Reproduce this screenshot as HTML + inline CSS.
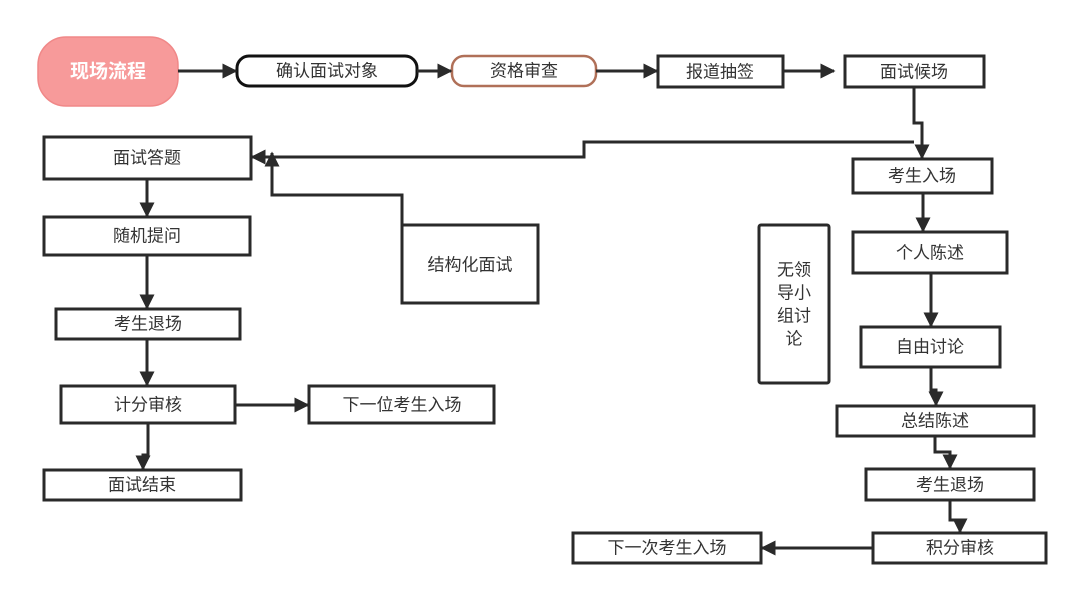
<!DOCTYPE html>
<html><head><meta charset="utf-8"><style>
body{margin:0;background:#fff;width:1080px;height:598px;overflow:hidden}
svg text{font-family:"Liberation Sans","Noto Sans CJK SC",sans-serif;font-size:17px;fill:#333;text-anchor:middle;dominant-baseline:central}
</style></head><body>
<svg width="1080" height="598" viewBox="0 0 1080 598">
<defs><marker id="a" viewBox="0 0 10 10" refX="9" refY="5" markerWidth="5" markerHeight="5" orient="auto-start-reverse"><path d="M0,0L10,5L0,10z" fill="#2a2a2a"/></marker></defs>
<g fill="none" stroke="#2a2a2a" stroke-width="3">
<rect x="38" y="37" width="140" height="69" rx="28" fill="#f79a9a" stroke="#f08888" stroke-width="1.5"/>
<rect x="237" y="56" width="180" height="30" rx="12" fill="#fff" stroke="#111"/>
<rect x="452" y="56" width="144" height="30" rx="12" fill="#fff" stroke="#b07058" stroke-width="2.5"/>
<rect x="658" y="56" width="125" height="31" fill="#fff"/>
<rect x="845" y="56" width="139" height="31" fill="#fff"/>
<rect x="853" y="159" width="139" height="34" fill="#fff"/>
<rect x="44" y="137" width="207" height="42" fill="#fff"/>
<rect x="44" y="217" width="206" height="38" fill="#fff"/>
<rect x="56" y="309" width="184" height="30" fill="#fff"/>
<rect x="61" y="386" width="174" height="37" fill="#fff"/>
<rect x="44" y="470" width="197" height="30" fill="#fff"/>
<rect x="402" y="225" width="136" height="78" fill="#fff"/>
<rect x="309" y="386" width="185" height="37" fill="#fff"/>
<rect x="759" y="225" width="70" height="158" rx="2" fill="#fff"/>
<rect x="853" y="232" width="154" height="41" fill="#fff"/>
<rect x="861" y="327" width="139" height="40" fill="#fff"/>
<rect x="837" y="406" width="197" height="30" fill="#fff"/>
<rect x="866" y="469" width="168" height="31" fill="#fff"/>
<rect x="873" y="533" width="173" height="30" fill="#fff"/>
<rect x="573" y="533" width="188" height="30" fill="#fff"/>
<g marker-end="url(#a)">
<path d="M178 71H236"/><path d="M417 71H451"/><path d="M596 71H657"/><path d="M783 71H834"/>
<path d="M914 87V123H922V158"/>
<path d="M914 142H584V157H252"/>
<path d="M402 303V195H272V153"/>
<path d="M147 179V216"/><path d="M147 255V308"/><path d="M147 339V385"/><path d="M148 423V455H143V469"/>
<path d="M235 405H308"/>
<path d="M923 193V231"/><path d="M931 273V326"/><path d="M931 367V390H936V405"/>
<path d="M935 436V452H950V468"/><path d="M950 500V520H960V532"/>
<path d="M873 548H762"/>
</g></g>
<text x="108" y="72" style="fill:#fff;font-weight:bold;font-size:19px">现场流程</text>
<text x="327" y="71">确认面试对象</text>
<text x="524" y="71">资格审查</text>
<text x="720" y="72">报道抽签</text>
<text x="914" y="72">面试候场</text>
<text x="922" y="176">考生入场</text>
<text x="147" y="158">面试答题</text>
<text x="147" y="236">随机提问</text>
<text x="148" y="324">考生退场</text>
<text x="148" y="405">计分审核</text>
<text x="142" y="485">面试结束</text>
<text x="470" y="265">结构化面试</text>
<text x="402" y="405">下一位考生入场</text>
<text x="794" y="270">无领</text>
<text x="794" y="293">导小</text>
<text x="794" y="316">组讨</text>
<text x="794" y="339">论</text>
<text x="930" y="253">个人陈述</text>
<text x="930" y="347">自由讨论</text>
<text x="935" y="421">总结陈述</text>
<text x="950" y="485">考生退场</text>
<text x="960" y="548">积分审核</text>
<text x="667" y="548">下一次考生入场</text>
</svg>
</body></html>
